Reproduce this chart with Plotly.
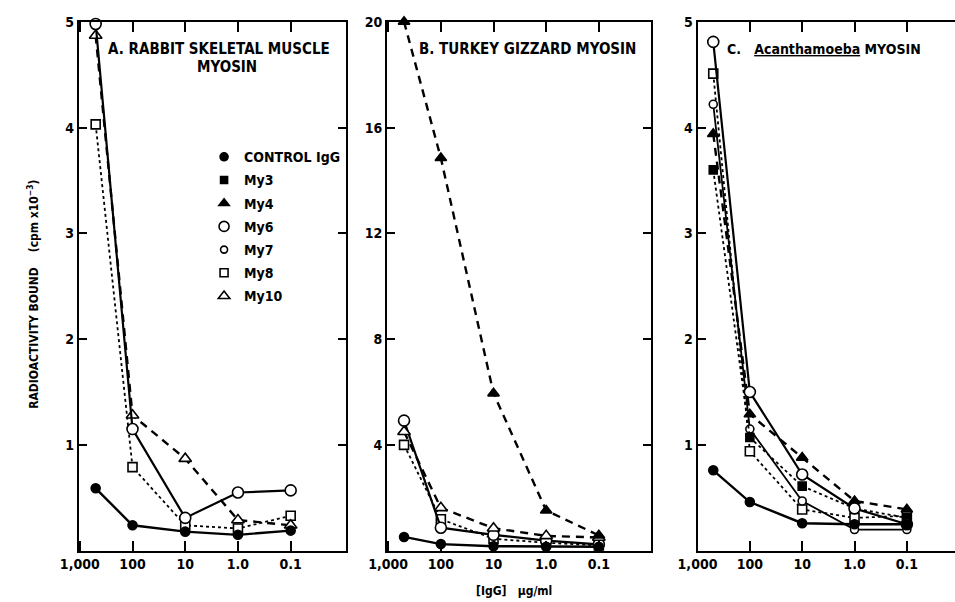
import plotly.graph_objects as go

# ---------------- data ----------------
conc = [500, 100, 10, 1.0, 0.1]                 # [IgG] ug/ml
x_tickvals = [1000, 100, 10, 1, 0.1]
x_ticktext = ["1,000", "100", "10", "1.0", "0.1"]
ya_tickvals = [1, 2, 3, 4, 5]
yb_tickvals = [4, 8, 12, 16, 20]

# Panel A: rabbit skeletal muscle myosin (cpm x10^-3)
a_control = [0.59, 0.24, 0.18, 0.15, 0.19]
a_my6 = [4.98, 1.15, 0.31, 0.55, 0.57]
a_my8 = [4.03, 0.79, 0.24, 0.21, 0.33]
a_my10 = [4.87, 1.28, 0.87, 0.29, 0.24]

# Panel B: turkey gizzard myosin
b_control = [0.52, 0.25, 0.17, 0.15, 0.15]
b_my4 = [20.0, 14.85, 5.95, 1.52, 0.58]
b_my6 = [4.92, 0.87, 0.6, 0.38, 0.24]
b_my8 = [4.0, 1.19, 0.45, 0.3, 0.2]
b_my10 = [4.5, 1.62, 0.85, 0.56, 0.5]

# Panel C: Acanthamoeba myosin
c_control = [0.76, 0.46, 0.26, 0.25, 0.25]
c_my3 = [3.6, 1.07, 0.61, 0.40, 0.31]
c_my4 = [3.94, 1.29, 0.88, 0.47, 0.39]
c_my6 = [4.81, 1.50, 0.72, 0.40, 0.25]
c_my7 = [4.22, 1.15, 0.47, 0.20, 0.20]
c_my8 = [4.51, 0.94, 0.39, 0.31, 0.33]

legend_names = ["CONTROL IgG", "My3", "My4", "My6", "My7", "My8", "My10"]

# ---------------- styles ----------------
FONT = "Liberation Sans Narrow, DejaVu Sans Condensed, Arial Narrow, sans-serif"
styles = {
    "CONTROL IgG": dict(symbol="circle", fill="black", size=9, dash="solid", lw=2.4),
    "My3": dict(symbol="square", fill="black", size=8, dash="dot", lw=1.8),
    "My4": dict(symbol="triangle-up", fill="black", size=10, dash="8px,6px", lw=2.4),
    "My6": dict(symbol="circle", fill="white", size=11, dash="solid", lw=2.2),
    "My7": dict(symbol="circle", fill="white", size=8, dash="solid", lw=1.8),
    "My8": dict(symbol="square", fill="white", size=9, dash="dot", lw=1.8),
    "My10": dict(symbol="triangle-up", fill="white", size=11, dash="8px,6px", lw=2.4),
}

panels = [
    ("x", "y", {"My8": a_my8, "My10": a_my10, "My6": a_my6, "CONTROL IgG": a_control}),
    ("x2", "y2", {"My8": b_my8, "My6": b_my6, "My10": b_my10, "My4": b_my4, "CONTROL IgG": b_control}),
    ("x3", "y3", {"My8": c_my8, "My7": c_my7, "My3": c_my3, "My4": c_my4, "My6": c_my6, "CONTROL IgG": c_control}),
]

fig = go.Figure()
for xa, ya, series in panels:
    for name, vals in series.items():
        s = styles[name]
        fig.add_trace(go.Scatter(
            x=conc, y=vals, xaxis=xa, yaxis=ya, mode="lines+markers",
            name=name, showlegend=False, cliponaxis=False,
            line=dict(color="black", width=s["lw"], dash=s["dash"]),
            marker=dict(symbol=s["symbol"], size=s["size"], color=s["fill"],
                        line=dict(color="black", width=1.6)),
        ))

# legend-only entries (markers only)
for i, name in enumerate(legend_names):
    s = styles[name]
    fig.add_trace(go.Scatter(
        x=[None], y=[None], xaxis="x", yaxis="y", mode="markers", name=name,
        legendgroup=name, showlegend=True,
        marker=dict(symbol=s["symbol"], size=s["size"] - 1, color=s["fill"],
                    line=dict(color="black", width=1.6)),
    ))

W, H = 955, 602
top_px, bot_px = 14, 550
ydom = [1 - bot_px / H, 1 - top_px / H]

axis_common = dict(showline=True, linecolor="black", linewidth=2, mirror="ticks",
                   ticks="inside", tickcolor="black", tickwidth=2, showgrid=False,
                   zeroline=False, tickfont=dict(family=FONT, size=14, color="black", weight="bold"))

def xaxis(dom, rng, anchor):
    d = dict(axis_common)
    d.update(domain=dom, type="log", range=rng, anchor=anchor, ticklen=10,
             tickvals=x_tickvals, ticktext=x_ticktext)
    return d

def yaxis(rng, tv, anchor, mirror="ticks"):
    d = dict(axis_common)
    d.update(domain=ydom, range=rng, anchor=anchor, ticklen=8, tickvals=tv,
             ticktext=[str(v) for v in tv], mirror=mirror)
    return d

fig.update_layout(
    width=W, height=H, margin=dict(l=0, r=0, t=0, b=0),
    paper_bgcolor="white", plot_bgcolor="white",
    xaxis=xaxis([60 / W, 333 / W], [3.02, -2.05], "y"),
    xaxis2=xaxis([375 / W, 645 / W], [3.02, -2.0], "y2"),
    xaxis3=xaxis([692 / W, 1.0], [3.0, -1.92], "y3"),
    yaxis=yaxis([0, 5], ya_tickvals, "x"),
    yaxis2=yaxis([0, 20], yb_tickvals, "x2"),
    yaxis3=yaxis([0, 5], ya_tickvals, "x3", mirror=False),
    showlegend=True,
    legend=dict(x=188 / W, y=1 - 135 / H, xanchor="left", yanchor="top",
                bgcolor="rgba(0,0,0,0)", tracegroupgap=2, itemwidth=30,
                font=dict(family=FONT, size=14, color="black", weight="bold")),
    font=dict(family=FONT, color="black"),
)

ann = [
    dict(text="A. RABBIT SKELETAL MUSCLE", x=88 / W, y=1 - 42 / H, xanchor="left", size=15),
    dict(text="MYOSIN", x=211 / W, y=1 - 60 / H, xanchor="center", size=15),
    dict(text="B. TURKEY GIZZARD MYOSIN", x=406 / W, y=1 - 42 / H, xanchor="left", size=15),
    dict(text="C.&nbsp;&nbsp;&nbsp;<u>Acanthamoeba</u> MYOSIN", x=720 / W, y=1 - 42 / H,
         xanchor="left", size=14),
]
for a in ann:
    sz = a.pop("size")
    fig.add_annotation(xref="paper", yref="paper", yanchor="middle", showarrow=False,
                       font=dict(family=FONT, size=sz, color="black", weight="bold"), **a)

fig.add_annotation(text="RADIOACTIVITY BOUND&nbsp;&nbsp;&nbsp;&nbsp;(cpm x10<sup>−3</sup>)",
                   xref="paper", yref="paper", x=13 / W, y=1 - 290 / H, textangle=-90,
                   showarrow=False, xanchor="center", yanchor="middle",
                   font=dict(family=FONT, size=12, color="black", weight="bold"))
fig.add_annotation(text="[IgG]&nbsp;&nbsp;&nbsp;µg/ml", xref="paper", yref="paper",
                   x=505 / W, y=1 - 591 / H, showarrow=False, xanchor="center",
                   yanchor="middle", font=dict(family=FONT, size=12, color="black", weight="bold"))

# remove the browser's default 8px body margin so the figure fills the window
fig.write_html("out.html", config={"displayModeBar": False},
               post_script="document.body.style.margin='0';document.body.style.overflow='hidden';")
